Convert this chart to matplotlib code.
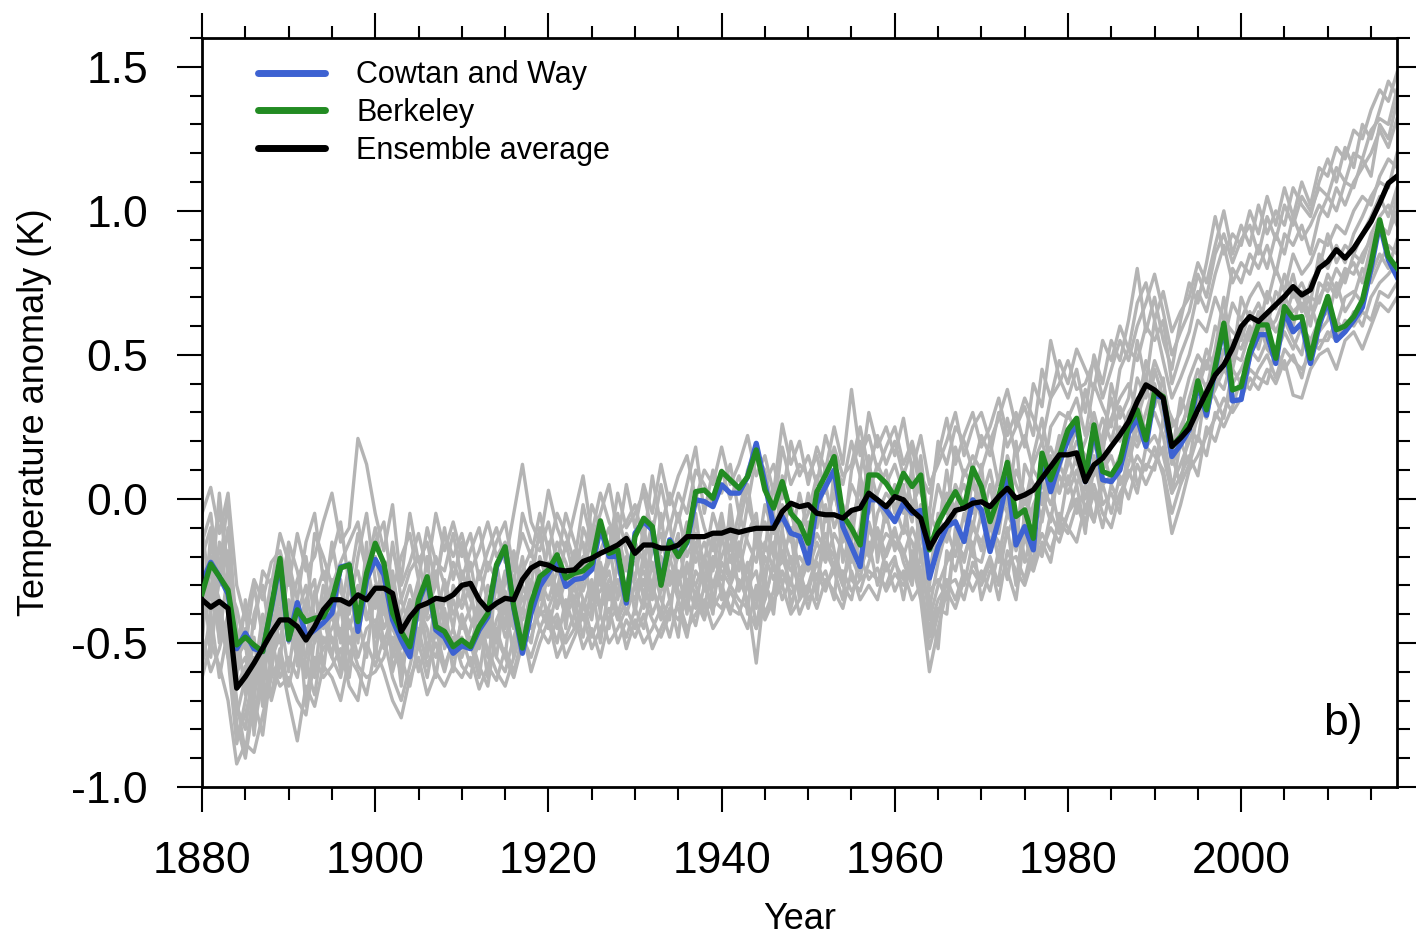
import matplotlib.pyplot as plt
import numpy as np
from matplotlib.ticker import MultipleLocator, FormatStrFormatter

plt.rcParams['font.family'] = ['Liberation Sans', 'DejaVu Sans']
plt.rcParams['axes.unicode_minus'] = False

years = np.arange(1880, 2019)

# ensemble average (black)
ensemble_avg = [
    -0.350, -0.376, -0.356, -0.380, -0.657, -0.617, -0.570, -0.518, -0.466, -0.420,
    -0.420, -0.443, -0.490, -0.443, -0.385, -0.350, -0.350, -0.365, -0.333, -0.350,
    -0.310, -0.310, -0.328, -0.460, -0.410, -0.374, -0.362, -0.345, -0.350, -0.333,
    -0.300, -0.293, -0.350, -0.385, -0.362, -0.345, -0.350, -0.280, -0.240, -0.223,
    -0.230, -0.246, -0.250, -0.246, -0.217, -0.206, -0.189, -0.175, -0.160, -0.137,
    -0.189, -0.160, -0.160, -0.171, -0.171, -0.160, -0.131, -0.131, -0.131, -0.119,
    -0.119, -0.108, -0.116, -0.108, -0.102, -0.102, -0.102, -0.044, -0.015, -0.027,
    -0.020, -0.050, -0.055, -0.055, -0.067, -0.040, -0.032, 0.020, -0.003, -0.027,
    0.008, -0.003, -0.040, -0.067, -0.171, -0.119, -0.084, -0.040, -0.032, -0.015,
    -0.010, -0.027, 0.008, 0.037, 0.002, 0.014, 0.031, 0.072, 0.112, 0.153,
    0.153, 0.160, 0.060, 0.118, 0.141, 0.182, 0.222, 0.268, 0.338, 0.396,
    0.378, 0.350, 0.182, 0.211, 0.245, 0.310, 0.370, 0.430, 0.465, 0.523,
    0.598, 0.633, 0.616, 0.645, 0.674, 0.703, 0.737, 0.708, 0.726, 0.801,
    0.824, 0.865, 0.836, 0.870, 0.917, 0.963, 1.027, 1.096, 1.120,
]

# Cowtan and Way (blue)
cowtan_way = [
    -0.290, -0.220, -0.270, -0.330, -0.520, -0.466, -0.520, -0.530, -0.380, -0.220,
    -0.490, -0.360, -0.478, -0.455, -0.430, -0.397, -0.236, -0.229, -0.460, -0.280,
    -0.210, -0.264, -0.420, -0.490, -0.548, -0.360, -0.280, -0.455, -0.480, -0.536,
    -0.510, -0.520, -0.455, -0.410, -0.236, -0.170, -0.380, -0.536, -0.397, -0.304,
    -0.258, -0.210, -0.304, -0.280, -0.275, -0.246, -0.100, -0.200, -0.200, -0.362,
    -0.119, -0.079, -0.108, -0.295, -0.142, -0.194, -0.153, -0.003, -0.009, -0.027,
    0.049, 0.020, 0.020, 0.077, 0.193, 0.054, -0.096, -0.061, -0.119, -0.130,
    -0.223, -0.015, 0.043, 0.100, -0.096, -0.166, -0.235, -0.003, -0.003, -0.038,
    -0.079, -0.015, -0.050, -0.040, -0.275, -0.166, -0.096, -0.079, -0.148, -0.003,
    -0.038, -0.183, -0.073, 0.070, -0.160, -0.096, -0.177, 0.147, 0.025, 0.124,
    0.205, 0.263, 0.060, 0.245, 0.066, 0.060, 0.100, 0.228, 0.280, 0.182,
    0.361, 0.350, 0.147, 0.188, 0.240, 0.400, 0.290, 0.450, 0.600, 0.340,
    0.345, 0.500, 0.570, 0.570, 0.470, 0.650, 0.580, 0.610, 0.470, 0.600,
    0.690, 0.550, 0.580, 0.620, 0.665, 0.800, 0.955, 0.830, 0.770,
]

# Berkeley (green)
berkeley = [
    -0.330, -0.226, -0.270, -0.316, -0.507, -0.480, -0.507, -0.530, -0.374, -0.206,
    -0.487, -0.385, -0.426, -0.414, -0.410, -0.350, -0.240, -0.229, -0.426, -0.258,
    -0.154, -0.223, -0.397, -0.460, -0.513, -0.350, -0.270, -0.443, -0.460, -0.513,
    -0.490, -0.513, -0.443, -0.397, -0.229, -0.166, -0.374, -0.518, -0.362, -0.270,
    -0.246, -0.194, -0.275, -0.258, -0.250, -0.223, -0.076, -0.189, -0.177, -0.350,
    -0.131, -0.067, -0.096, -0.300, -0.148, -0.200, -0.148, 0.025, 0.031, 0.002,
    0.095, 0.066, 0.037, 0.077, 0.170, 0.031, -0.032, 0.060, -0.050, -0.084,
    -0.154, 0.025, 0.083, 0.147, -0.056, -0.102, -0.160, 0.083, 0.083, 0.054,
    0.008, 0.089, 0.043, 0.083, -0.177, -0.084, -0.027, 0.025, -0.032, 0.107,
    0.043, -0.079, 0.008, 0.127, -0.061, -0.038, -0.137, 0.159, 0.066, 0.147,
    0.240, 0.280, 0.072, 0.257, 0.095, 0.083, 0.130, 0.257, 0.309, 0.205,
    0.373, 0.355, 0.182, 0.216, 0.268, 0.410, 0.309, 0.459, 0.610, 0.378,
    0.390, 0.517, 0.604, 0.604, 0.488, 0.668, 0.627, 0.633, 0.488, 0.616,
    0.703, 0.587, 0.600, 0.633, 0.690, 0.818, 0.969, 0.841, 0.801,
]

# individual ensemble members (grey)
member_01 = [
    -0.05, 0.04, -0.12, 0.02, -0.30, -0.42, -0.28, -0.35, -0.22, -0.18,
    -0.30, -0.12, -0.25, -0.20, -0.08, 0.02, -0.15, -0.10, 0.21, 0.12,
    -0.05, -0.18, -0.02, -0.30, -0.22, -0.12, -0.25, -0.05, -0.18, -0.08,
    -0.20, -0.12, -0.28, -0.18, -0.10, -0.22, -0.05, 0.12, -0.08, -0.15,
    0.03, -0.10, -0.18, -0.05, 0.08, -0.12, 0.02, -0.08, -0.15, 0.05,
    -0.10, 0.05, -0.05, 0.12, -0.02, 0.08, 0.15, 0.00, 0.10, 0.05,
    0.18, 0.05, 0.12, 0.22, 0.08, 0.15, 0.02, 0.26, 0.12, 0.20,
    0.05, 0.18, 0.10, 0.25, 0.12, 0.38, 0.15, 0.22, 0.10, 0.18,
    0.25, 0.12, 0.20, 0.08, 0.02, 0.15, 0.28, 0.12, 0.22, 0.30,
    0.18, 0.25, 0.35, 0.22, 0.30, 0.18, 0.40, 0.32, 0.55, 0.42,
    0.35, 0.45, 0.30, 0.50, 0.40, 0.55, 0.48, 0.62, 0.80, 0.58,
    0.70, 0.55, 0.45, 0.62, 0.75, 0.68, 0.82, 0.98, 0.85, 0.92,
    0.88, 1.00, 0.92, 1.05, 0.95, 1.08, 0.98, 1.10, 1.02, 1.15,
    1.12, 1.22, 1.18, 1.28, 1.25, 1.35, 1.42, 1.38, 1.48,
]
member_02 = [
    -0.62, -0.50, -0.58, -0.70, -0.92, -0.85, -0.88, -0.75, -0.62, -0.55,
    -0.70, -0.84, -0.65, -0.72, -0.58, -0.62, -0.70, -0.55, -0.60, -0.68,
    -0.52, -0.60, -0.70, -0.76, -0.62, -0.55, -0.68, -0.60, -0.65, -0.58,
    -0.62, -0.55, -0.66, -0.58, -0.63, -0.52, -0.60, -0.48, -0.55, -0.45,
    -0.50, -0.42, -0.55, -0.48, -0.40, -0.52, -0.45, -0.38, -0.50, -0.42,
    -0.48, -0.40, -0.52, -0.45, -0.38, -0.42, -0.35, -0.44, -0.30, -0.38,
    -0.32, -0.40, -0.28, -0.35, -0.57, -0.30, -0.36, -0.25, -0.33, -0.28,
    -0.38, -0.26, -0.32, -0.22, -0.30, -0.35, -0.20, -0.28, -0.24, -0.32,
    -0.26, -0.30, -0.22, -0.35, -0.60, -0.45, -0.32, -0.38, -0.28, -0.25,
    -0.30, -0.22, -0.35, -0.18, -0.25, -0.30, -0.20, -0.12, -0.18, -0.08,
    -0.12, -0.02, -0.10, 0.05, -0.05, -0.10, 0.02, 0.08, 0.15, 0.10,
    0.18, 0.08, -0.12, -0.02, 0.10, 0.15, 0.22, 0.28, 0.35, 0.30,
    0.35, 0.42, 0.38, 0.45, 0.40, 0.48, 0.36, 0.35, 0.45, 0.50,
    0.52, 0.45, 0.55, 0.58, 0.52, 0.60, 0.68, 0.65, 0.70,
]
member_03 = [
    -0.25, -0.40, -0.15, -0.35, -0.60, -0.55, -0.70, -0.45, -0.52, -0.38,
    -0.45, -0.55, -0.38, -0.50, -0.30, -0.42, -0.28, -0.45, -0.35, -0.22,
    -0.38, -0.25, -0.45, -0.52, -0.35, -0.48, -0.30, -0.42, -0.28, -0.40,
    -0.35, -0.22, -0.40, -0.48, -0.30, -0.38, -0.45, -0.25, -0.18, -0.30,
    -0.22, -0.32, -0.15, -0.28, -0.20, -0.35, -0.18, -0.10, -0.25, -0.30,
    -0.15, -0.22, -0.08, -0.25, -0.18, -0.05, -0.20, -0.12, -0.22, -0.05,
    -0.15, -0.08, -0.20, -0.02, -0.12, -0.18, 0.05, -0.10, -0.02, -0.12,
    -0.05, 0.08, -0.08, 0.02, -0.10, 0.05, -0.02, 0.12, 0.00, -0.08,
    0.05, -0.05, 0.08, -0.12, -0.25, -0.10, 0.02, -0.06, 0.10, 0.04,
    0.00, 0.10, -0.05, 0.15, 0.05, -0.02, 0.12, 0.20, 0.08, 0.22,
    0.15, 0.25, 0.10, 0.18, 0.28, 0.20, 0.32, 0.25, 0.42, 0.35,
    0.48, 0.40, 0.25, 0.30, 0.42, 0.50, 0.45, 0.60, 0.55, 0.68,
    0.62, 0.70, 0.75, 0.68, 0.80, 0.72, 0.85, 0.78, 0.82, 0.90,
    0.88, 0.95, 0.92, 1.00, 1.05, 1.02, 1.12, 1.18, 1.15,
]
member_04 = [
    -0.45, -0.30, -0.48, -0.25, -0.75, -0.62, -0.55, -0.68, -0.40, -0.50,
    -0.35, -0.48, -0.55, -0.32, -0.45, -0.28, -0.40, -0.22, -0.48, -0.30,
    -0.20, -0.35, -0.28, -0.42, -0.50, -0.32, -0.40, -0.25, -0.45, -0.35,
    -0.45, -0.38, -0.25, -0.35, -0.50, -0.28, -0.32, -0.40, -0.22, -0.28,
    -0.35, -0.25, -0.30, -0.18, -0.32, -0.22, -0.28, -0.20, -0.12, -0.25,
    -0.22, -0.30, -0.18, -0.12, -0.28, -0.20, -0.08, -0.22, -0.15, -0.25,
    -0.08, -0.18, -0.05, -0.15, -0.22, -0.02, -0.12, -0.05, -0.15, 0.02,
    -0.12, -0.05, 0.05, -0.10, -0.02, -0.15, 0.08, -0.05, 0.02, 0.10,
    -0.05, 0.10, -0.02, 0.05, -0.15, -0.20, -0.08, 0.05, -0.02, -0.10,
    0.05, -0.05, 0.08, -0.02, 0.10, 0.02, -0.08, 0.12, 0.18, 0.10,
    0.22, 0.12, 0.20, 0.30, 0.18, 0.28, 0.35, 0.40, 0.30, 0.48,
    0.38, 0.30, 0.15, 0.35, 0.28, 0.40, 0.52, 0.45, 0.62, 0.58,
    0.55, 0.65, 0.58, 0.72, 0.66, 0.78, 0.70, 0.75, 0.68, 0.85,
    0.80, 0.88, 0.82, 0.92, 0.98, 1.05, 1.10, 1.08, 1.20,
]
member_05 = [
    -0.15, -0.05, -0.30, -0.10, -0.45, -0.68, -0.40, -0.30, -0.50, -0.25,
    -0.40, -0.28, -0.20, -0.42, -0.38, -0.15, -0.32, -0.40, -0.20, -0.05,
    -0.28, -0.40, -0.15, -0.35, -0.25, -0.20, -0.38, -0.30, -0.10, -0.28,
    -0.15, -0.30, -0.35, -0.22, -0.28, -0.45, -0.18, -0.32, -0.30, -0.10,
    -0.28, -0.15, -0.22, -0.32, -0.10, -0.18, -0.30, -0.22, -0.05, -0.18,
    -0.28, -0.10, -0.25, -0.18, -0.08, -0.30, -0.15, 0.02, -0.10, -0.18,
    -0.05, -0.22, -0.10, 0.05, -0.15, -0.08, -0.20, 0.08, -0.05, -0.15,
    0.02, -0.10, 0.12, 0.05, -0.15, 0.10, 0.20, 0.02, 0.12, 0.05,
    0.12, 0.02, -0.08, 0.15, -0.12, 0.05, -0.05, 0.18, 0.08, 0.15,
    0.10, 0.20, 0.05, 0.28, 0.15, 0.22, 0.10, 0.05, 0.25, 0.30,
    0.28, 0.35, 0.22, 0.40, 0.32, 0.25, 0.45, 0.52, 0.48, 0.60,
    0.55, 0.62, 0.40, 0.50, 0.58, 0.72, 0.65, 0.78, 0.88, 0.75,
    0.82, 0.78, 0.88, 0.80, 0.92, 0.85, 0.98, 0.90, 0.95, 1.02,
    0.98, 1.08, 1.02, 1.10, 1.15, 1.20, 1.28, 1.22, 1.32,
]
member_06 = [
    -0.55, -0.45, -0.38, -0.50, -0.82, -0.75, -0.62, -0.58, -0.48, -0.62,
    -0.55, -0.62, -0.45, -0.58, -0.52, -0.48, -0.58, -0.42, -0.55, -0.45,
    -0.42, -0.52, -0.48, -0.58, -0.45, -0.60, -0.50, -0.55, -0.42, -0.52,
    -0.48, -0.58, -0.50, -0.42, -0.55, -0.60, -0.48, -0.38, -0.45, -0.40,
    -0.38, -0.45, -0.40, -0.35, -0.48, -0.30, -0.38, -0.32, -0.42, -0.35,
    -0.35, -0.28, -0.40, -0.32, -0.25, -0.35, -0.28, -0.30, -0.38, -0.22,
    -0.25, -0.30, -0.22, -0.28, -0.35, -0.20, -0.28, -0.18, -0.25, -0.20,
    -0.25, -0.15, -0.22, -0.12, -0.18, -0.22, -0.15, -0.08, -0.18, -0.12,
    -0.15, -0.20, -0.10, -0.18, -0.42, -0.30, -0.22, -0.15, -0.20, -0.10,
    -0.15, -0.08, -0.20, -0.05, -0.12, -0.15, -0.02, 0.05, -0.02, 0.08,
    0.02, 0.10, 0.00, 0.12, 0.05, 0.08, 0.15, 0.22, 0.18, 0.25,
    0.30, 0.22, 0.05, 0.12, 0.20, 0.28, 0.32, 0.38, 0.45, 0.40,
    0.45, 0.52, 0.48, 0.55, 0.50, 0.58, 0.52, 0.60, 0.55, 0.62,
    0.65, 0.60, 0.70, 0.72, 0.68, 0.78, 0.85, 0.80, 0.90,
]
member_07 = [
    -0.35, -0.20, -0.50, -0.42, -0.70, -0.88, -0.65, -0.45, -0.60, -0.40,
    -0.60, -0.38, -0.72, -0.48, -0.40, -0.55, -0.35, -0.50, -0.42, -0.55,
    -0.30, -0.45, -0.38, -0.65, -0.40, -0.28, -0.55, -0.35, -0.52, -0.45,
    -0.55, -0.45, -0.35, -0.55, -0.42, -0.35, -0.55, -0.30, -0.38, -0.25,
    -0.45, -0.32, -0.40, -0.25, -0.35, -0.42, -0.22, -0.35, -0.28, -0.40,
    -0.30, -0.38, -0.22, -0.35, -0.42, -0.15, -0.30, -0.38, -0.20, -0.30,
    -0.20, -0.12, -0.32, -0.22, -0.45, -0.25, -0.15, -0.30, -0.20, -0.32,
    -0.30, -0.20, -0.12, -0.25, -0.35, -0.05, -0.25, -0.15, -0.30, -0.18,
    -0.10, -0.22, -0.30, -0.05, -0.35, -0.52, -0.18, -0.25, -0.12, -0.20,
    -0.22, -0.10, -0.15, -0.28, -0.08, -0.20, -0.25, -0.05, 0.05, -0.10,
    0.08, -0.05, 0.05, -0.08, 0.10, 0.15, 0.05, 0.12, 0.25, 0.18,
    0.22, 0.15, 0.02, 0.20, 0.12, 0.32, 0.28, 0.42, 0.38, 0.50,
    0.48, 0.58, 0.55, 0.62, 0.58, 0.65, 0.60, 0.72, 0.62, 0.70,
    0.75, 0.70, 0.78, 0.82, 0.75, 0.88, 0.95, 0.92, 1.00,
]
member_08 = [
    -0.20, -0.55, -0.25, 0.00, -0.55, -0.50, -0.75, -0.60, -0.35, -0.45,
    -0.25, -0.45, -0.35, -0.28, -0.60, -0.35, -0.48, -0.30, -0.25, -0.40,
    -0.45, -0.30, -0.55, -0.40, -0.30, -0.42, -0.20, -0.48, -0.35, -0.22,
    -0.30, -0.42, -0.48, -0.30, -0.38, -0.25, -0.40, -0.52, -0.28, -0.35,
    -0.15, -0.38, -0.25, -0.40, -0.28, -0.12, -0.40, -0.15, -0.35, -0.20,
    -0.40, -0.18, -0.32, -0.05, -0.30, -0.25, -0.40, -0.15, -0.32, -0.12,
    -0.35, -0.02, -0.25, -0.12, -0.05, -0.30, -0.05, -0.20, -0.30, -0.08,
    -0.18, 0.02, -0.20, 0.10, -0.22, -0.10, 0.05, -0.20, -0.05, 0.02,
    -0.02, -0.12, 0.12, -0.22, -0.05, -0.12, 0.10, -0.08, -0.15, 0.08,
    -0.08, 0.05, -0.12, 0.08, -0.15, 0.12, 0.05, -0.02, 0.15, 0.02,
    0.12, 0.20, 0.15, 0.08, 0.22, 0.35, 0.20, 0.30, 0.35, 0.22,
    0.45, 0.35, 0.28, 0.22, 0.35, 0.45, 0.38, 0.52, 0.70, 0.48,
    0.70, 0.62, 0.68, 0.60, 0.72, 0.68, 0.78, 0.65, 0.75, 0.80,
    0.92, 0.82, 0.88, 0.85, 0.92, 0.98, 1.05, 0.98, 1.08,
]
member_09 = [
    -0.50, -0.12, -0.42, -0.55, -0.85, -0.70, -0.48, -0.72, -0.55, -0.30,
    -0.50, -0.35, -0.58, -0.62, -0.35, -0.50, -0.45, -0.62, -0.38, -0.35,
    -0.35, -0.22, -0.60, -0.48, -0.55, -0.38, -0.45, -0.62, -0.40, -0.60,
    -0.40, -0.50, -0.62, -0.40, -0.48, -0.55, -0.28, -0.45, -0.50, -0.32,
    -0.40, -0.50, -0.35, -0.45, -0.38, -0.28, -0.50, -0.30, -0.40, -0.48,
    -0.38, -0.45, -0.30, -0.42, -0.35, -0.48, -0.22, -0.35, -0.42, -0.30,
    -0.30, -0.38, -0.40, -0.30, -0.25, -0.40, -0.32, -0.10, -0.38, -0.25,
    -0.35, -0.30, -0.25, -0.35, -0.05, -0.28, -0.32, -0.22, -0.12, -0.25,
    -0.20, -0.35, -0.18, -0.28, -0.48, -0.38, -0.40, -0.10, -0.30, -0.15,
    -0.35, -0.25, -0.28, -0.10, -0.30, -0.05, -0.15, -0.20, -0.05, -0.12,
    -0.05, 0.05, -0.12, 0.15, -0.02, 0.02, -0.05, 0.20, 0.05, 0.12,
    0.10, 0.28, 0.15, 0.05, 0.25, 0.20, 0.40, 0.35, 0.28, 0.45,
    0.40, 0.48, 0.62, 0.52, 0.48, 0.62, 0.55, 0.50, 0.68, 0.58,
    0.62, 0.75, 0.65, 0.70, 0.80, 0.75, 0.82, 0.88, 0.85,
]
member_10 = [
    -0.10, -0.35, 0.02, -0.28, -0.62, -0.35, -0.82, -0.52, -0.70, -0.58,
    -0.18, -0.58, -0.48, -0.35, -0.25, -0.38, -0.60, -0.28, -0.50, -0.15,
    -0.55, -0.32, -0.25, -0.45, -0.35, -0.52, -0.35, -0.20, -0.30, -0.45,
    -0.25, -0.35, -0.42, -0.62, -0.22, -0.40, -0.35, -0.20, -0.40, -0.20,
    -0.30, -0.20, -0.45, -0.22, -0.15, -0.40, -0.25, -0.45, -0.20, -0.12,
    -0.18, -0.35, -0.12, -0.28, -0.22, -0.12, -0.35, -0.05, -0.28, -0.40,
    -0.12, -0.28, -0.15, -0.40, -0.08, -0.35, -0.22, -0.02, -0.12, -0.35,
    -0.08, -0.35, -0.02, -0.18, -0.28, -0.20, -0.10, 0.15, -0.22, -0.02,
    -0.08, 0.05, -0.25, -0.02, -0.30, -0.05, -0.15, -0.02, 0.05, -0.05,
    0.12, -0.18, 0.02, -0.05, 0.20, -0.10, 0.15, 0.28, 0.10, 0.18,
    0.30, 0.22, 0.38, 0.25, 0.15, 0.40, 0.28, 0.35, 0.55, 0.40,
    0.62, 0.48, 0.35, 0.42, 0.50, 0.62, 0.58, 0.70, 0.62, 0.80,
    0.75, 0.85, 0.80, 0.88, 0.78, 0.92, 0.88, 0.95, 0.85, 0.98,
    1.05, 1.00, 1.10, 1.08, 1.18, 1.12, 1.30, 1.25, 1.38,
]
member_11 = [
    -0.30, -0.18, -0.05, -0.22, -0.50, -0.38, -0.45, -0.25, -0.30, -0.12,
    -0.22, -0.35, -0.15, -0.05, -0.28, -0.20, -0.08, -0.30, -0.12, -0.25,
    -0.15, -0.08, -0.32, -0.20, -0.12, -0.28, -0.10, -0.22, -0.25, -0.12,
    -0.28, -0.18, -0.10, -0.25, -0.15, -0.08, -0.25, -0.12, -0.20, -0.05,
    -0.18, -0.05, -0.12, -0.22, -0.02, -0.15, -0.05, 0.05, -0.12, -0.08,
    -0.02, -0.15, 0.08, -0.10, 0.02, -0.08, 0.05, 0.18, -0.05, 0.10,
    0.02, 0.12, -0.05, 0.10, 0.18, 0.05, 0.12, 0.00, 0.20, 0.08,
    0.15, 0.05, 0.22, 0.12, 0.05, 0.20, 0.08, 0.30, 0.18, 0.25,
    0.15, 0.28, 0.10, 0.22, 0.05, 0.12, 0.20, 0.30, 0.15, 0.25,
    0.30, 0.20, 0.28, 0.38, 0.25, 0.32, 0.22, 0.45, 0.35, 0.48,
    0.40, 0.52, 0.45, 0.38, 0.55, 0.48, 0.60, 0.52, 0.68, 0.75,
    0.62, 0.72, 0.58, 0.65, 0.70, 0.82, 0.75, 0.88, 1.00, 0.85,
    0.95, 0.88, 1.02, 0.92, 1.00, 0.95, 1.08, 1.02, 0.98, 1.10,
    1.18, 1.10, 1.22, 1.15, 1.30, 1.25, 1.35, 1.45, 1.40,
]
member_12 = [
    -0.48, -0.60, -0.52, -0.40, -0.78, -0.90, -0.70, -0.82, -0.58, -0.65,
    -0.62, -0.70, -0.75, -0.55, -0.62, -0.58, -0.52, -0.65, -0.70, -0.50,
    -0.58, -0.48, -0.62, -0.70, -0.58, -0.45, -0.58, -0.50, -0.60, -0.48,
    -0.58, -0.62, -0.45, -0.52, -0.60, -0.65, -0.55, -0.45, -0.60, -0.50,
    -0.42, -0.55, -0.48, -0.40, -0.52, -0.45, -0.55, -0.42, -0.38, -0.52,
    -0.42, -0.50, -0.45, -0.38, -0.48, -0.35, -0.45, -0.40, -0.35, -0.45,
    -0.40, -0.32, -0.38, -0.45, -0.30, -0.42, -0.35, -0.30, -0.40, -0.35,
    -0.30, -0.38, -0.28, -0.32, -0.38, -0.25, -0.35, -0.30, -0.35, -0.22,
    -0.32, -0.25, -0.35, -0.30, -0.52, -0.40, -0.28, -0.35, -0.25, -0.32,
    -0.25, -0.32, -0.18, -0.25, -0.35, -0.12, -0.25, -0.15, -0.22, -0.05,
    -0.10, -0.15, -0.02, -0.08, 0.05, -0.05, 0.08, 0.00, 0.12, 0.05,
    0.12, 0.18, 0.02, 0.08, 0.15, 0.08, 0.25, 0.20, 0.30, 0.38,
    0.38, 0.45, 0.42, 0.40, 0.52, 0.45, 0.50, 0.42, 0.55, 0.52,
    0.58, 0.55, 0.62, 0.60, 0.65, 0.62, 0.72, 0.70, 0.75,
]
member_13 = [
    -0.40, -0.25, -0.35, -0.55, -0.65, -0.58, -0.80, -0.62, -0.45, -0.35,
    -0.48, -0.40, -0.30, -0.50, -0.42, -0.35, -0.50, -0.38, -0.30, -0.42,
    -0.32, -0.50, -0.40, -0.35, -0.45, -0.30, -0.42, -0.38, -0.50, -0.30,
    -0.38, -0.30, -0.52, -0.40, -0.35, -0.48, -0.40, -0.35, -0.30, -0.40,
    -0.25, -0.38, -0.28, -0.35, -0.25, -0.32, -0.38, -0.28, -0.32, -0.22,
    -0.30, -0.25, -0.35, -0.20, -0.35, -0.28, -0.25, -0.30, -0.22, -0.35,
    -0.22, -0.28, -0.15, -0.30, -0.38, -0.15, -0.25, -0.22, -0.10, -0.25,
    -0.20, -0.12, -0.18, -0.25, -0.12, -0.20, -0.28, -0.10, -0.18, -0.05,
    -0.18, -0.10, -0.15, -0.25, -0.38, -0.22, -0.10, -0.20, -0.05, -0.18,
    -0.05, -0.15, -0.08, 0.02, -0.18, -0.08, 0.05, -0.08, 0.10, 0.02,
    0.15, 0.05, 0.12, 0.22, 0.10, 0.18, 0.25, 0.15, 0.28, 0.38,
    0.32, 0.42, 0.18, 0.25, 0.32, 0.38, 0.48, 0.40, 0.52, 0.45,
    0.58, 0.55, 0.65, 0.58, 0.62, 0.70, 0.65, 0.68, 0.60, 0.75,
    0.72, 0.80, 0.75, 0.85, 0.82, 0.92, 0.98, 1.02, 0.95,
]
member_14 = [
    -0.30, -0.48, -0.28, -0.18, -0.58, -0.45, -0.62, -0.40, -0.55, -0.48,
    -0.38, -0.50, -0.62, -0.40, -0.50, -0.45, -0.38, -0.55, -0.45, -0.32,
    -0.48, -0.38, -0.52, -0.60, -0.40, -0.35, -0.52, -0.45, -0.38, -0.55,
    -0.42, -0.52, -0.38, -0.45, -0.55, -0.32, -0.45, -0.42, -0.35, -0.45,
    -0.38, -0.30, -0.38, -0.30, -0.42, -0.35, -0.32, -0.25, -0.40, -0.30,
    -0.35, -0.22, -0.30, -0.40, -0.20, -0.32, -0.38, -0.25, -0.30, -0.20,
    -0.28, -0.20, -0.30, -0.25, -0.15, -0.28, -0.40, -0.12, -0.22, -0.30,
    -0.22, -0.28, -0.15, -0.20, -0.30, -0.15, -0.22, -0.18, -0.10, -0.20,
    -0.12, -0.18, -0.28, -0.10, -0.32, -0.28, -0.35, -0.12, -0.22, -0.08,
    -0.18, -0.05, -0.22, -0.12, -0.05, -0.22, -0.10, 0.02, -0.08, 0.12,
    0.05, 0.15, -0.05, 0.10, 0.18, 0.05, 0.12, 0.28, 0.20, 0.30,
    0.40, 0.28, 0.12, 0.18, 0.25, 0.35, 0.30, 0.48, 0.45, 0.55,
    0.52, 0.60, 0.52, 0.65, 0.58, 0.62, 0.72, 0.65, 0.70, 0.68,
    0.78, 0.72, 0.80, 0.78, 0.85, 0.90, 0.95, 0.92, 1.05,
]
member_15 = [
    -0.20, -0.10, -0.22, -0.30, -0.38, -0.52, -0.30, -0.48, -0.28, -0.35,
    -0.15, -0.25, -0.40, -0.12, -0.20, -0.30, -0.22, -0.15, -0.08, -0.25,
    -0.10, -0.25, -0.18, -0.28, -0.05, -0.22, -0.15, -0.30, -0.12, -0.20,
    -0.12, -0.25, -0.18, -0.08, -0.20, -0.15, -0.30, -0.05, -0.15, -0.18,
    -0.08, -0.22, -0.05, -0.15, -0.25, -0.02, -0.10, -0.18, 0.02, -0.10,
    -0.05, 0.02, -0.12, 0.05, -0.10, 0.02, -0.05, 0.10, 0.05, -0.02,
    0.10, 0.00, 0.08, -0.02, 0.15, 0.10, -0.05, 0.18, 0.05, 0.12,
    0.08, 0.15, 0.02, 0.18, 0.08, 0.12, 0.25, 0.10, 0.22, 0.12,
    0.20, 0.08, 0.18, 0.02, -0.05, 0.20, 0.12, 0.25, 0.20, 0.10,
    0.22, 0.15, 0.30, 0.18, 0.25, 0.35, 0.28, 0.20, 0.35, 0.40,
    0.48, 0.38, 0.40, 0.48, 0.35, 0.45, 0.55, 0.48, 0.60, 0.68,
    0.78, 0.65, 0.50, 0.58, 0.65, 0.78, 0.70, 0.85, 0.92, 0.82,
    0.90, 0.95, 0.85, 0.98, 0.90, 1.02, 0.95, 1.05, 1.00, 1.08,
    1.05, 1.15, 1.10, 1.20, 1.18, 1.28, 1.32, 1.30, 1.42,
]
member_16 = [
    -0.58, -0.40, -0.62, -0.45, -0.72, -0.80, -0.58, -0.70, -0.68, -0.52,
    -0.65, -0.52, -0.58, -0.68, -0.48, -0.55, -0.62, -0.48, -0.58, -0.62,
    -0.60, -0.55, -0.42, -0.55, -0.65, -0.50, -0.62, -0.45, -0.58, -0.50,
    -0.52, -0.48, -0.58, -0.65, -0.45, -0.55, -0.62, -0.50, -0.48, -0.38,
    -0.45, -0.40, -0.50, -0.45, -0.35, -0.48, -0.40, -0.50, -0.45, -0.38,
    -0.45, -0.35, -0.42, -0.48, -0.40, -0.38, -0.48, -0.32, -0.40, -0.35,
    -0.38, -0.30, -0.35, -0.38, -0.45, -0.35, -0.22, -0.35, -0.28, -0.40,
    -0.32, -0.22, -0.30, -0.25, -0.25, -0.32, -0.28, -0.25, -0.28, -0.30,
    -0.22, -0.28, -0.20, -0.32, -0.45, -0.35, -0.30, -0.28, -0.35, -0.22,
    -0.28, -0.20, -0.30, -0.22, -0.20, -0.28, -0.15, -0.18, -0.10, -0.15,
    -0.05, 0.00, -0.08, 0.02, -0.10, 0.05, -0.02, 0.10, 0.02, 0.18,
    0.15, 0.10, -0.05, 0.05, 0.12, 0.22, 0.15, 0.30, 0.25, 0.32,
    0.42, 0.38, 0.45, 0.50, 0.42, 0.52, 0.48, 0.45, 0.50, 0.55,
    0.55, 0.62, 0.58, 0.65, 0.60, 0.70, 0.75, 0.78, 0.82,
]

members = [member_01, member_02, member_03, member_04, member_05, member_06,
           member_07, member_08, member_09, member_10, member_11, member_12,
           member_13, member_14, member_15, member_16]

fig = plt.figure(figsize=(14.16, 9.35), dpi=100)
ax = fig.add_axes([0.1427, 0.1583, 0.8439, 0.8011])

for m in members:
    ax.plot(years, m, color="#b4b4b4", linewidth=2.4, zorder=1)

ax.plot(years, cowtan_way, color="#3d62d2", linewidth=3.8, label="Cowtan and Way", zorder=2)
ax.plot(years, berkeley, color="#228b22", linewidth=3.8, label="Berkeley", zorder=3)
ax.plot(years, ensemble_avg, color="black", linewidth=3.8, label="Ensemble average", zorder=4)

ax.set_xlim(1880, 2018)
ax.set_ylim(-1.0, 1.6)
ax.xaxis.set_major_locator(MultipleLocator(20))
ax.xaxis.set_minor_locator(MultipleLocator(5))
ax.yaxis.set_major_locator(MultipleLocator(0.5))
ax.yaxis.set_minor_locator(MultipleLocator(0.1))
ax.yaxis.set_major_formatter(FormatStrFormatter("%.1f"))

ax.tick_params(which="both", direction="out", top=True, right=True, width=1.5)
ax.tick_params(which="major", length=18, labelsize=32, pad=21)
ax.tick_params(which="minor", length=9)
for s in ax.spines.values():
    s.set_linewidth(2)

ax.set_xlabel("Year", fontsize=26, labelpad=14)
ax.set_ylabel("Temperature anomaly (K)", fontsize=26, labelpad=14)

leg = ax.legend(loc="upper left", bbox_to_anchor=(0.047, 0.970), frameon=False,
                fontsize=22, handlelength=2.2, handletextpad=1.0,
                labelspacing=0.25, borderpad=0, borderaxespad=0)
for h in leg.legend_handles:
    h.set_linewidth(5)
    h.set_solid_capstyle("round")

ax.text(0.971, 0.085, "b)", transform=ax.transAxes, fontsize=32,
        ha="right", va="center")

fig.savefig("out.png", dpi=100)
